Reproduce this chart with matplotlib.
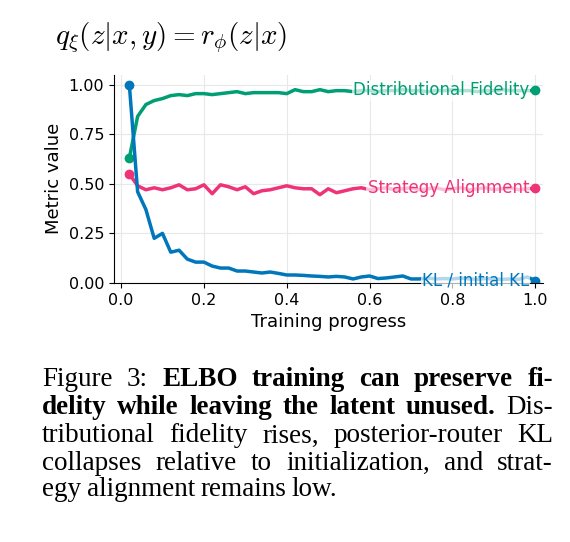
import matplotlib
matplotlib.use("Agg")
import matplotlib.pyplot as plt
import numpy as np

x = [round(0.02 * i, 2) for i in range(1, 51)]
fidelity = [0.63, 0.84, 0.90, 0.92, 0.93, 0.945, 0.95, 0.945, 0.955, 0.955,
            0.95, 0.955, 0.96, 0.965, 0.955, 0.96, 0.96, 0.96, 0.96, 0.955,
            0.975, 0.965, 0.965, 0.975, 0.965, 0.97, 0.97, 0.965, 0.97, 0.97,
            0.965, 0.97, 0.97, 0.975, 0.97, 0.97, 0.965, 0.97, 0.97, 0.975,
            0.97, 0.97, 0.965, 0.97, 0.97, 0.975, 0.97, 0.97, 0.97, 0.971]
alignment = [0.55, 0.49, 0.47, 0.48, 0.47, 0.48, 0.495, 0.47, 0.475, 0.495,
             0.45, 0.495, 0.485, 0.47, 0.485, 0.45, 0.465, 0.47, 0.48, 0.49,
             0.48, 0.475, 0.475, 0.445, 0.475, 0.455, 0.465, 0.475, 0.48, 0.47,
             0.475, 0.48, 0.47, 0.475, 0.48, 0.47, 0.475, 0.48, 0.47, 0.475,
             0.48, 0.47, 0.475, 0.48, 0.47, 0.475, 0.48, 0.47, 0.475, 0.477]
kl = [1.0, 0.46, 0.37, 0.225, 0.25, 0.155, 0.165, 0.12, 0.105, 0.105,
      0.085, 0.075, 0.075, 0.06, 0.06, 0.055, 0.05, 0.055, 0.048, 0.04,
      0.04, 0.038, 0.035, 0.033, 0.03, 0.033, 0.03, 0.02, 0.03, 0.035,
      0.022, 0.025, 0.03, 0.035, 0.02, 0.02, 0.025, 0.02, 0.022, 0.02,
      0.025, 0.02, 0.018, 0.022, 0.02, 0.018, 0.02, 0.018, 0.03, 0.012]
series = [("Distributional Fidelity", fidelity, "#009E73"),
          ("Strategy Alignment", alignment, "#EE3377"),
          ("KL / initial KL", kl, "#0077BB")]

fig = plt.figure(figsize=(5.7, 5.42), dpi=100)
ax = fig.add_axes([0.2, 0.478, 0.753, 0.384])
for name, ys, c in series:
    ax.plot(x, ys, color=c, lw=2.5, solid_joinstyle="round")
    ax.plot([x[0], x[-1]], [ys[0], ys[-1]], "o", color=c, ms=6)
    ax.text(0.985, ys[-1], name, color=c, fontsize=12, ha="right", va="center",
            bbox=dict(facecolor="white", edgecolor="none", alpha=0.7, pad=1))
ax.set_xlim(-0.017, 1.019)
ax.set_ylim(0, 1.05)
ax.set_xticks([0, 0.2, 0.4, 0.6, 0.8, 1.0])
ax.set_yticks([0, 0.25, 0.5, 0.75, 1.0])
ax.set_yticklabels(["0.00", "0.25", "0.50", "0.75", "1.00"])
ax.tick_params(labelsize=11.5)
ax.grid(True, color="#e8e8e8", lw=0.8)
ax.set_axisbelow(True)
for s in ["top", "right"]:
    ax.spines[s].set_visible(False)
ax.set_xlabel("Training progress", fontsize=13)
ax.set_ylabel("Metric value", fontsize=13)

fig.text(55 / 570, 1 - 38 / 542, r"$q_\xi(z|x,y) = r_\phi(z|x)$", fontsize=21,
         va="center", ha="left", math_fontfamily="cm")

# caption with manual justification
lines = [
    [("Figure", "normal"), ("3:", "normal"), ("ELBO", "bold"), ("training", "bold"),
     ("can", "bold"), ("preserve", "bold"), ("fi-", "bold")],
    [("delity", "bold"), ("while", "bold"), ("leaving", "bold"), ("the", "bold"),
     ("latent", "bold"), ("unused.", "bold"), ("Dis-", "normal")],
    [(w, "normal") for w in "tributional fidelity rises, posterior-router KL".split()],
    [(w, "normal") for w in "collapses relative to initialization, and strat-".split()],
    [(w, "normal") for w in "egy alignment remains low.".split()],
]
left, right = 42, 553
ys_px = [380, 408, 436, 463, 490]
fig.canvas.draw()
r = fig.canvas.get_renderer()
for li, (words, ypx) in enumerate(zip(lines, ys_px)):
    arts = []
    for w, wt in words:
        t = fig.text(0, 1 - ypx / 542, w, fontsize=19.5, family="Liberation Serif",
                     weight=wt, va="center", ha="left")
        arts.append(t)
    widths = [a.get_window_extent(r).width for a in arts]
    total = sum(widths)
    if li < len(lines) - 1:
        gap = (right - left - total) / (len(arts) - 1)
    else:
        gap = 5.5
    pos = left
    for a, wdt in zip(arts, widths):
        a.set_x(pos / 570)
        pos += wdt + gap

fig.savefig("out.png", dpi=100)
